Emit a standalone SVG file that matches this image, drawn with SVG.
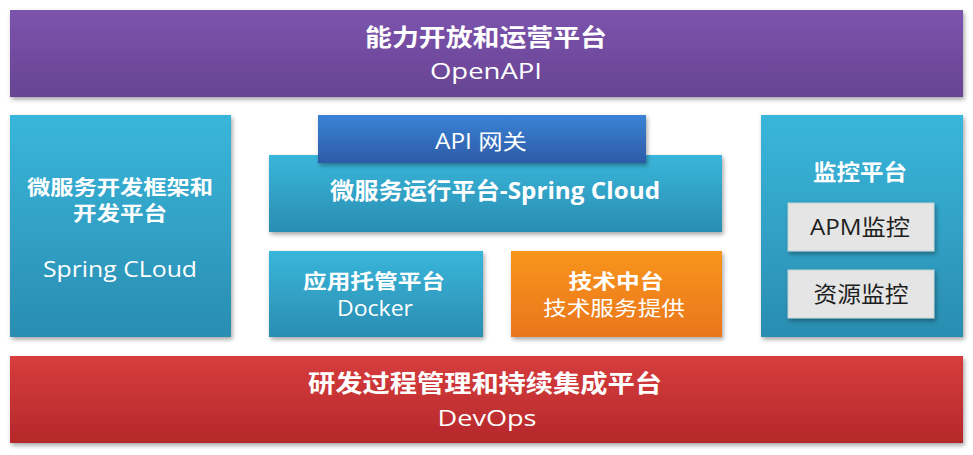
<svg xmlns="http://www.w3.org/2000/svg" width="973" height="455" viewBox="0 0 973 455">
  <defs>
    <linearGradient id="gPurple" x1="0" y1="0" x2="0" y2="1">
      <stop offset="0" stop-color="#7c54ad"/>
      <stop offset="1" stop-color="#684493"/>
    </linearGradient>
    <linearGradient id="gBlue" x1="0" y1="0" x2="0" y2="1">
      <stop offset="0" stop-color="#39b6db"/>
      <stop offset="1" stop-color="#2a8db1"/>
    </linearGradient>
    <linearGradient id="gApi" x1="0" y1="0" x2="0" y2="1">
      <stop offset="0" stop-color="#3b82d6"/>
      <stop offset="1" stop-color="#2c5ba6"/>
    </linearGradient>
    <linearGradient id="gOrange" x1="0" y1="0" x2="0" y2="1">
      <stop offset="0" stop-color="#f8951f"/>
      <stop offset="1" stop-color="#ea761c"/>
    </linearGradient>
    <linearGradient id="gRed" x1="0" y1="0" x2="0" y2="1">
      <stop offset="0" stop-color="#d73d3d"/>
      <stop offset="1" stop-color="#b5282a"/>
    </linearGradient>
    <filter id="shadow" x="-5%" y="-10%" width="110%" height="125%">
      <feDropShadow dx="1.5" dy="2.5" stdDeviation="2" flood-color="#000" flood-opacity="0.35"/>
    </filter>
  </defs>
  <style>
    .box { filter: url(#shadow); }
    .t { font-family: "Open Sans", "Noto Sans CJK SC", sans-serif; fill: #ffffff; text-anchor: middle; }
    .b { font-weight: bold; }
    .dark { fill: #1e1e1e; }
  </style>
  <rect width="973" height="455" fill="#ffffff"/>

  <g id="openapi">
    <rect class="box" x="10" y="10" width="953" height="87" fill="url(#gPurple)"/>
    <text class="t b" x="486" y="46" font-size="24" textLength="242" lengthAdjust="spacingAndGlyphs">能力开放和运营平台</text>
    <text class="t" x="486" y="79" font-size="22" textLength="112" lengthAdjust="spacingAndGlyphs">OpenAPI</text>
  </g>

  <g id="dev-framework">
    <rect class="box" x="10" y="115" width="221" height="222" fill="url(#gBlue)"/>
    <text class="t b" x="120" y="195" font-size="20" textLength="186" lengthAdjust="spacingAndGlyphs">微服务开发框架和</text>
    <text class="t b" x="120" y="221" font-size="20" textLength="94" lengthAdjust="spacingAndGlyphs">开发平台</text>
    <text class="t" x="120" y="277" font-size="22" textLength="154" lengthAdjust="spacingAndGlyphs">Spring CLoud</text>
  </g>

  <g id="runtime">
    <rect class="box" x="269" y="155" width="453" height="77" fill="url(#gBlue)"/>
    <text class="t b" x="495" y="199" font-size="23" textLength="330" lengthAdjust="spacingAndGlyphs">微服务运行平台-Spring Cloud</text>
  </g>

  <g id="api-gateway">
    <rect class="box" x="318" y="115" width="328" height="48" fill="url(#gApi)"/>
    <text class="t" x="481" y="149" font-size="21" textLength="92" lengthAdjust="spacingAndGlyphs">API 网关</text>
  </g>

  <g id="docker">
    <rect class="box" x="269" y="251" width="214" height="86" fill="url(#gBlue)"/>
    <text class="t b" x="374" y="289" font-size="20" textLength="142" lengthAdjust="spacingAndGlyphs">应用托管平台</text>
    <text class="t" x="375" y="316" font-size="21" textLength="76" lengthAdjust="spacingAndGlyphs">Docker</text>
  </g>

  <g id="tech-platform">
    <rect class="box" x="511" y="251" width="211" height="86" fill="url(#gOrange)"/>
    <text class="t b" x="616" y="289" font-size="20" textLength="95" lengthAdjust="spacingAndGlyphs">技术中台</text>
    <text class="t" x="614" y="316" font-size="20" textLength="142" lengthAdjust="spacingAndGlyphs">技术服务提供</text>
  </g>

  <g id="monitor">
    <rect class="box" x="761" y="115" width="202" height="222" fill="url(#gBlue)"/>
    <text class="t b" x="860" y="180" font-size="22" textLength="94" lengthAdjust="spacingAndGlyphs">监控平台</text>
  </g>

  <g id="apm">
    <rect class="box" x="788" y="203" width="146" height="48" fill="#e5e5e5" stroke="#bcd3d3" stroke-width="1"/>
    <text class="t dark" x="860" y="235" font-size="22" textLength="100" lengthAdjust="spacingAndGlyphs">APM监控</text>
  </g>

  <g id="resource">
    <rect class="box" x="788" y="270" width="146" height="48" fill="#e5e5e5" stroke="#bcd3d3" stroke-width="1"/>
    <text class="t dark" x="861" y="302" font-size="22" textLength="95" lengthAdjust="spacingAndGlyphs">资源监控</text>
  </g>

  <g id="devops">
    <rect class="box" x="10" y="356" width="953" height="87" fill="url(#gRed)"/>
    <text class="t b" x="485" y="392" font-size="24" textLength="354" lengthAdjust="spacingAndGlyphs">研发过程管理和持续集成平台</text>
    <text class="t" x="487" y="426" font-size="22" textLength="99" lengthAdjust="spacingAndGlyphs">DevOps</text>
  </g>

  <g id="connectors"></g>
</svg>
